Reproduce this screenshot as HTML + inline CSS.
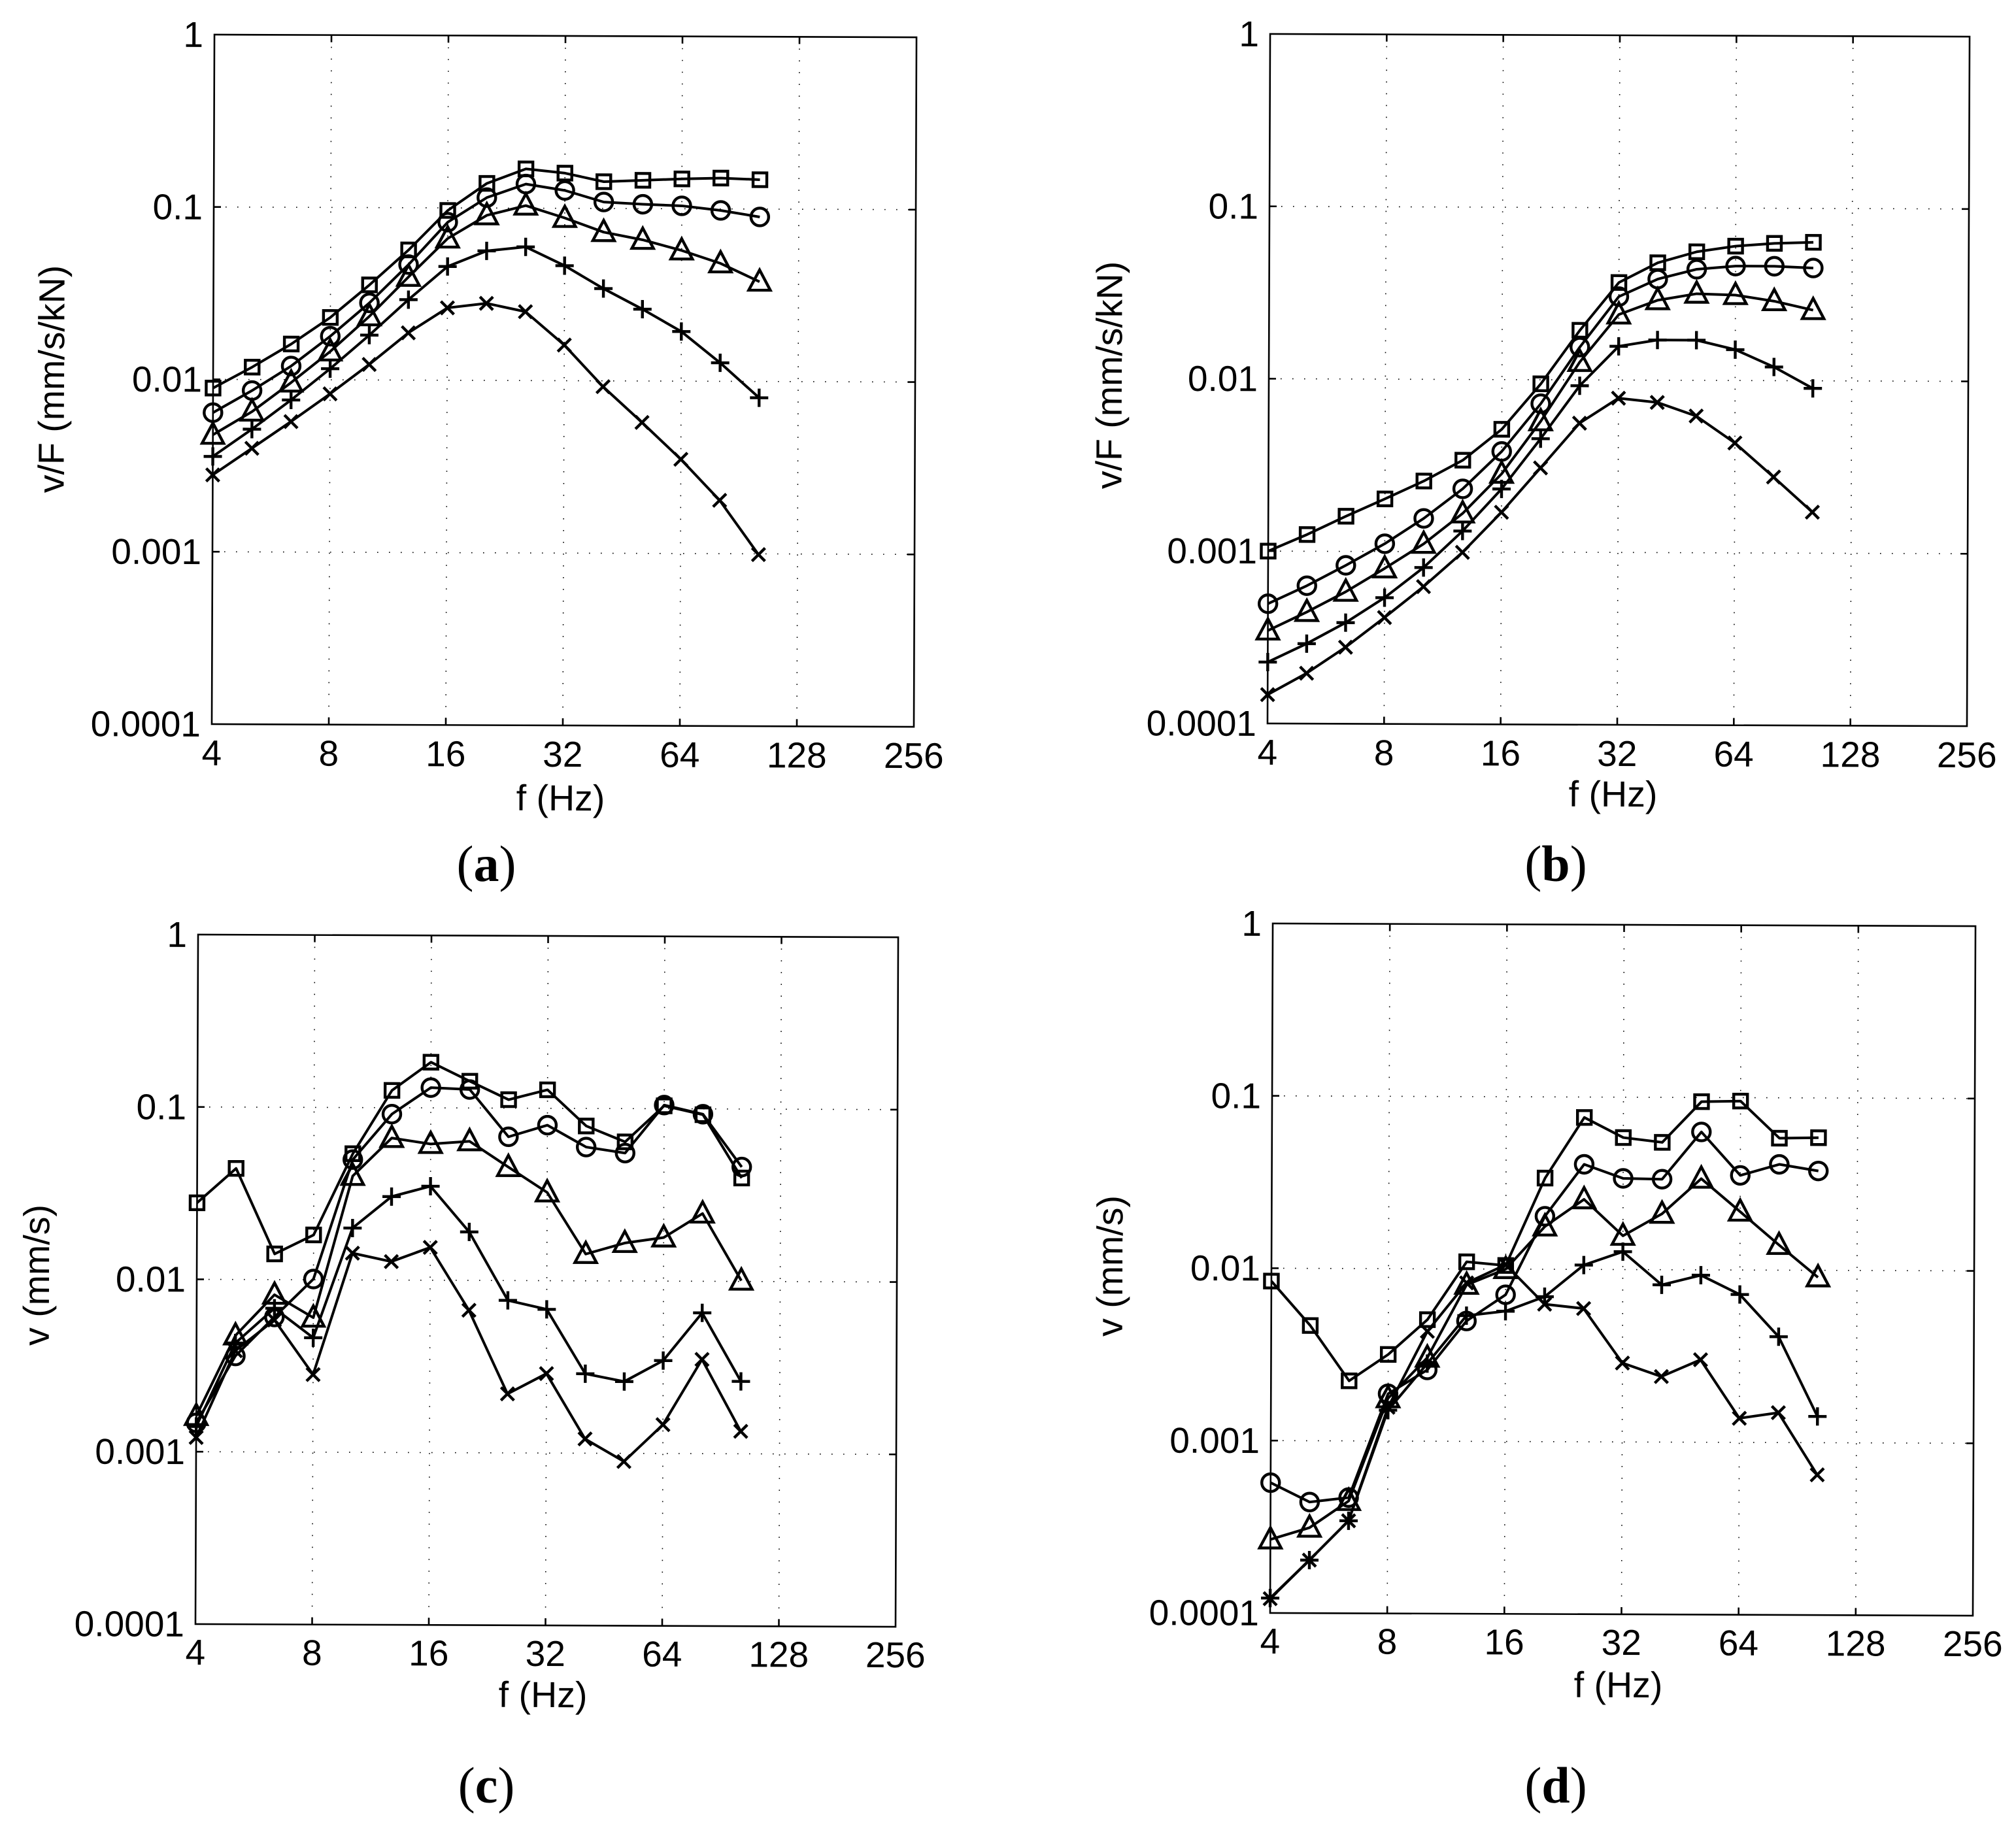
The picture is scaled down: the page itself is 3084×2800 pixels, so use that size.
<!DOCTYPE html>
<html lang="en">
<head>
<meta charset="utf-8">
<title>Frequency response charts</title>
<style>
html,body{margin:0;padding:0;background:#fff;}
svg{display:block;}
text{fill:#000;font-family:"Liberation Sans",Arial,sans-serif;}
.tick{font-size:55px;}
.axis-title{font-size:55.5px;text-anchor:middle;}
.caption{font-family:"Liberation Serif","Times New Roman",serif;font-size:78px;text-anchor:middle;}
.caption tspan{font-weight:bold;}
</style>
</head>
<body>
<svg id="figure" xmlns="http://www.w3.org/2000/svg" width="3084" height="2800" viewBox="0 0 3084 2800">
<rect width="3084" height="2800" fill="#fff"/>
<g id="panel-a">
<text class="axis-title" x="860" y="1240">f (Hz)</text>
<text class="axis-title" transform="translate(98 583) rotate(-90)">v/F (mm/s/kN)</text>
</g>
<g id="panel-b">
<text class="axis-title" x="2470" y="1234">f (Hz)</text>
<text class="axis-title" transform="translate(1716 577) rotate(-90)">v/F (mm/s/kN)</text>
</g>
<g id="panel-c">
<text class="axis-title" x="833" y="2612">f (Hz)</text>
<text class="axis-title" transform="translate(75 1954) rotate(-90)">v (mm/s)</text>
</g>
<g id="panel-d">
<text class="axis-title" x="2478" y="2597">f (Hz)</text>
<text class="axis-title" transform="translate(1717 1940) rotate(-90)">v (mm/s)</text>
</g>
<text class="caption" x="744" y="1348">(<tspan>a</tspan>)</text>
<text class="caption" x="2380" y="1348">(<tspan>b</tspan>)</text>
<text class="caption" x="744" y="2758">(<tspan>c</tspan>)</text>
<text class="caption" x="2380" y="2758">(<tspan>d</tspan>)</text>
</svg>
<script>
// Shared categories and tick labels
const frequencies = [4,5.04,6.35,8,10.08,12.7,16,20.16,25.4,32,40.3,50.8,64,80.6,101.6];
const xTickValues = [4,8,16,32,64,128,256];
const xTickLabels = ["4","8","16","32","64","128","256"];
const yTickValues = [1,0.1,0.01,0.001,0.0001];
const yTickLabels = ["1","0.1","0.01","0.001","0.0001"];

// Panel (a) v/F
const aSquare = [.0089,.0118,.0161,.0230,.0356,.0569,.0966,.139,.169,.160,.143,.146,.149,.151,.148];
const aCircle = [.00641,.00863,.0120,.0179,.0280,.0468,.0826,.115,.138,.127,.109,.106,.104,.098,.090];
const aTriangle = [.00477,.00651,.00962,.0146,.0234,.0397,.0664,.0907,.1035,.0879,.0729,.0659,.0573,.0483,.0379];
const aPlus = [.00357,.00515,.00762,.0116,.0182,.0293,.0457,.0564,.0596,.0465,.0343,.0261,.0194,.0128,.00804];
const aCross = [.00279,.00399,.00571,.00829,.0123,.0188,.0263,.0280,.0251,.0161,.00925,.00575,.00352,.00204,.00099];

// Panel (b) v/F
const bSquare = [.00100,.00125,.00160,.00202,.00257,.00340,.00515,.00947,.0194,.0368,.0480,.0557,.0602,.0626,.0636];
const bCircle = [.000495,.000631,.00083,.00111,.00156,.00232,.00383,.00726,.0155,.0305,.0386,.0441,.0461,.0461,.0451];
const bTriangle = [.000346,.000444,.000583,.000798,.00111,.00167,.00284,.00574,.0127,.0240,.0291,.0318,.0313,.0289,.0257];
const bPlus = [.000227,.000291,.000386,.000540,.000809,.00132,.00232,.00455,.00925,.0157,.0171,.0171,.0151,.0120,.00904];
const bCross = [.000147,.000196,.000278,.000414,.000627,.000993,.00170,.00308,.00561,.00785,.00743,.00621,.00434,.00276,.00173];

// Panel (c) v
const cSquare = [.0278,.0441,.0141,.0182,.0540,.126,.184,.143,.112,.128,.0791,.0641,.104,.0925,.0398];
const cCircle = [.00147,.00360,.00607,.0101,.0499,.0918,.131,.128,.0682,.0798,.0597,.0552,.105,.0931,.0461];
const cTriangle = [.00161,.00473,.00817,.00603,.0401,.0667,.0617,.0641,.0455,.0325,.0143,.0166,.0179,.0247,.0101];
const cPlus = [.00140,.00428,.00682,.00461,.0200,.0305,.0351,.0191,.00767,.00682,.00289,.00261,.00346,.00656,.00263];
const cCross = [.00121,.00386,.00583,.00282,.0143,.0128,.0155,.00671,.00220,.00289,.00121,.000897,.00147,.00352,.00135];

// Panel (d) v
const dSquare = [.00842,.00466,.00223,.00318,.00507,.0110,.0105,.0338,.0761,.0583,.0548,.0946,.0955,.0583,.0588];
const dCircle = [.000570,.000441,.000469,.00188,.00259,.00499,.00710,.0203,.0407,.0338,.0335,.0631,.0354,.0411,.0377];
const dTriangle = [.000267,.000313,.000448,.00177,.00305,.00809,.0100,.0177,.0255,.0157,.0211,.0338,.0218,.0140,.00910];
const dPlus = [.000122,.000203,.000344,.00151,.00282,.00536,.00570,.00693,.0106,.0127,.00817,.00931,.00721,.00411,.00142];
const dCross = [.000121,.000203,.000344,.00157,.00434,.00830,.0106,.00627,.00593,.00287,.00240,.00301,.00138,.00149,.000651];

const SVGNS = "http://www.w3.org/2000/svg";
function make(parent, tag, attrs) {
  const el = document.createElementNS(SVGNS, tag);
  for (const k in attrs) el.setAttribute(k, attrs[k]);
  parent.appendChild(el);
  return el;
}
function xScale(p, f) { return p.left + Math.log2(f / 4) * (p.right - p.left) / 6; }
function yScale(p, v) { return p.top - Math.log10(v) * (p.bottom - p.top) / 4; }

function drawFrame(g, p) {
  const frame = make(g, "rect", {x:p.left, y:p.top, width:p.right-p.left, height:p.bottom-p.top, fill:"none", stroke:"#000", "stroke-width":2.6});
  
  
  xTickValues.forEach(function (tv, i) {
    const x = xScale(p, tv);
    if (i > 0 && i < xTickValues.length - 1) {
      const grid = make(g, "line", {x1:x, x2:x, y1:p.top, y2:p.bottom, stroke:"#000", "stroke-width":1.6, "stroke-dasharray":"1.6 16.4"});
      
      
      const tb = make(g, "line", {x1:x, x2:x, y1:p.bottom, y2:p.bottom-11, stroke:"#000", "stroke-width":2.6});
      
      
      const tt = make(g, "line", {x1:x, x2:x, y1:p.top, y2:p.top+11, stroke:"#000", "stroke-width":2.6});
      
      
    }
    const label = make(g, "text", {x:x, y:p.xTickBase, class:"tick", "text-anchor":"middle"});
    
    
    label.textContent = xTickLabels[i];
  });
  yTickValues.forEach(function (tv, i) {
    const y = yScale(p, tv);
    if (i > 0 && i < yTickValues.length - 1) {
      const grid = make(g, "line", {x1:p.left, x2:p.right, y1:y, y2:y, stroke:"#000", "stroke-width":1.6, "stroke-dasharray":"1.6 16.4"});
      
      
      const tl = make(g, "line", {x1:p.left, x2:p.left+11, y1:y, y2:y, stroke:"#000", "stroke-width":2.6});
      
      
      const tr = make(g, "line", {x1:p.right, x2:p.right-11, y1:y, y2:y, stroke:"#000", "stroke-width":2.6});
      
      
    }
    const label = make(g, "text", {x:p.left-17, y:y+19, class:"tick", "text-anchor":"end"});
    
    
    label.textContent = yTickLabels[i];
  });
}

function drawMarker(g, kind, x, y) {
  const style = {fill:"none", stroke:"#000", "stroke-width":4.4};
  let el;
  if (kind === "square") {
    el = make(g, "rect", Object.assign({x:x-10.5, y:y-10.5, width:21, height:21}, style));
  } else if (kind === "circle") {
    el = make(g, "circle", Object.assign({cx:x, cy:y, r:13.5}, style));
  } else if (kind === "triangle") {
    el = make(g, "path", Object.assign({d:"M"+x+" "+(y-18)+"L"+(x+16.5)+" "+(y+13)+"L"+(x-16.5)+" "+(y+13)+"Z"}, style));
  } else if (kind === "plus") {
    el = make(g, "path", Object.assign({d:"M"+(x-14)+" "+y+"H"+(x+14)+"M"+x+" "+(y-14)+"V"+(y+14)}, style));
  } else {
    el = make(g, "path", Object.assign({d:"M"+(x-10)+" "+(y-10)+"L"+(x+10)+" "+(y+10)+"M"+(x+10)+" "+(y-10)+"L"+(x-10)+" "+(y+10)}, style));
  }
  
  
}

function drawSeries(g, p, kind, values) {
  const pts = values.map(function (v, i) { return xScale(p, frequencies[i]) + "," + yScale(p, v); }).join(" ");
  const line = make(g, "polyline", {points:pts, fill:"none", stroke:"#000", "stroke-width":4, "stroke-linejoin":"round"});
  
  
  values.forEach(function (v, i) {
    drawMarker(g, kind, xScale(p, frequencies[i]), yScale(p, v));
  });
}

function drawPanel(id, p, series) {
  const g = document.getElementById(id);
  g.setAttribute("transform", "rotate(0.22 " + ((p.left + p.right) / 2) + " " + ((p.top + p.bottom) / 2) + ")");
  drawFrame(g, p);
  drawSeries(g, p, "square", series[0]);
  drawSeries(g, p, "circle", series[1]);
  drawSeries(g, p, "triangle", series[2]);
  drawSeries(g, p, "plus", series[3]);
  drawSeries(g, p, "cross", series[4]);
}

drawPanel("panel-a", {left:326, right:1400, top:55, bottom:1110, xTickBase:1173}, [aSquare,aCircle,aTriangle,aPlus,aCross]);
drawPanel("panel-b", {left:1941, right:3011, top:54, bottom:1109, xTickBase:1172}, [bSquare,bCircle,bTriangle,bPlus,bCross]);
drawPanel("panel-c", {left:301, right:1372, top:1432, bottom:2487, xTickBase:2549}, [cSquare,cCircle,cTriangle,cPlus,cCross]);
drawPanel("panel-d", {left:1945, right:3020, top:1415, bottom:2470, xTickBase:2532}, [dSquare,dCircle,dTriangle,dPlus,dCross]);
</script>
</body>
</html>
